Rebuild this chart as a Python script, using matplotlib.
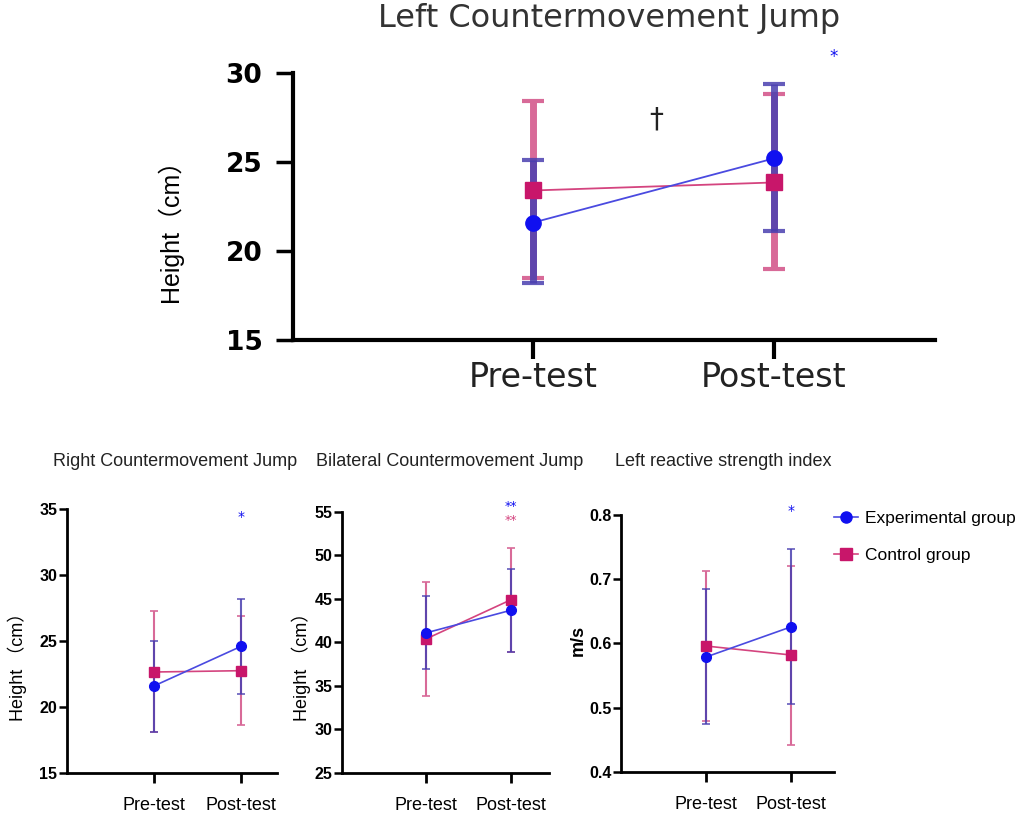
import matplotlib
matplotlib.use("Agg")
import matplotlib.pyplot as plt
from matplotlib.lines import Line2D

# ---------------- data ----------------
phases = ["Pre-test", "Post-test"]

# Left CMJ (top panel)
left_exp_mean = [21.6, 25.2]
left_exp_lo = [18.2, 21.1]
left_exp_hi = [25.1, 29.4]
left_ctl_mean = [23.4, 23.85]
left_ctl_lo = [18.5, 19.0]
left_ctl_hi = [28.4, 28.8]

# Right CMJ
right_exp_mean = [21.6, 24.6]
right_exp_lo = [18.1, 21.0]
right_exp_hi = [25.0, 28.2]
right_ctl_mean = [22.65, 22.75]
right_ctl_lo = [18.1, 18.6]
right_ctl_hi = [27.3, 26.9]

# Bilateral CMJ
bil_exp_mean = [41.1, 43.7]
bil_exp_lo = [37.0, 38.9]
bil_exp_hi = [45.3, 48.4]
bil_ctl_mean = [40.4, 44.9]
bil_ctl_lo = [33.9, 38.9]
bil_ctl_hi = [47.0, 50.9]

# Left RSI
rsi_exp_mean = [0.579, 0.626]
rsi_exp_lo = [0.475, 0.506]
rsi_exp_hi = [0.685, 0.747]
rsi_ctl_mean = [0.596, 0.582]
rsi_ctl_lo = [0.480, 0.442]
rsi_ctl_hi = [0.713, 0.721]

group_names = ["Experimental group", "Control group"]

# ---------------- style ----------------
BLUE = "#1010f0"
BLUE_LINE = "#4a4ae0"
BLUE_ERR = "#4a3fb0"
PINK = "#c8166a"
PINK_LINE = "#d4447f"
PINK_ERR = "#d86a98"

NARROW = ["Liberation Sans", "DejaVu Sans"]
NARROW_CJK = ["Liberation Sans", "Noto Sans CJK SC"]

fig = plt.figure(figsize=(10.19, 8.23), dpi=100)
fig.patch.set_facecolor("white")


def draw(ax, exp_m, exp_lo, exp_hi, ctl_m, ctl_lo, ctl_hi, ms, cap, lw_err, lw_line):
    x = list(range(len(phases)))
    ce = [[m - l for m, l in zip(ctl_m, ctl_lo)], [h - m for m, h in zip(ctl_m, ctl_hi)]]
    ee = [[m - l for m, l in zip(exp_m, exp_lo)], [h - m for m, h in zip(exp_m, exp_hi)]]
    ax.errorbar(x, ctl_m, yerr=ce, fmt="none", ecolor=PINK_ERR, elinewidth=lw_err,
                capsize=cap, capthick=max(1.2, lw_err * 0.6), clip_on=False, zorder=2)
    ax.errorbar(x, exp_m, yerr=ee, fmt="none", ecolor=BLUE_ERR, elinewidth=lw_err,
                capsize=cap, capthick=max(1.2, lw_err * 0.6), clip_on=False, alpha=0.85, zorder=3)
    ax.plot(x, ctl_m, color=PINK_LINE, lw=lw_line, marker="s", ms=ms, mfc=PINK, mec=PINK,
            zorder=4, clip_on=False)
    ax.plot(x, exp_m, color=BLUE_LINE, lw=lw_line, marker="o", ms=ms, mfc=BLUE, mec=BLUE,
            zorder=5, clip_on=False)


# ---------------- top panel ----------------
ax0 = fig.add_axes([0.2875, 0.5869, 0.630, 0.3244])
draw(ax0, left_exp_mean, left_exp_lo, left_exp_hi, left_ctl_mean, left_ctl_lo, left_ctl_hi,
     ms=11, cap=8, lw_err=5, lw_line=1.3)
ax0.set_xlim(-1.0, 1.67)
ax0.set_ylim(15, 30)
ax0.set_yticks([15, 20, 25, 30])
ax0.set_xticks([0, 1])
ax0.set_xticklabels(phases, fontsize=24, family="DejaVu Sans", color="#222222")
for lab in ax0.get_yticklabels():
    lab.set_fontsize(19)
    lab.set_fontweight("heavy")
    lab.set_family("DejaVu Sans")
ax0.tick_params(axis="y", length=12, width=2.5, pad=10)
ax0.tick_params(axis="x", length=14, width=3, pad=1)
for s in ["top", "right"]:
    ax0.spines[s].set_visible(False)
for s in ["left", "bottom"]:
    ax0.spines[s].set_linewidth(3)
ax0.text(0.51, 27.4, "†", ha="center", va="center", fontsize=20, color="#222222")
ax0.text(1.25, 30.9, "*", ha="center", va="center", fontsize=12, color=BLUE, clip_on=False)
fig.text(0.598, 0.977, "Left Countermovement Jump", ha="center", va="center",
         fontsize=23, color="#333333", family="DejaVu Sans")
fig.text(0.167, 0.727, "Height（cm）", rotation=90, ha="center", va="center",
         fontsize=18, family=NARROW_CJK)


# ---------------- bottom panels ----------------
def style_small(ax, ylim, yticks, fmt):
    ax.set_ylim(*ylim)
    ax.set_yticks(yticks)
    ax.set_yticklabels([fmt.format(t) for t in yticks], fontsize=11.5, fontweight="bold",
                       family=NARROW)
    ax.set_xticks([0, 1])
    ax.set_xticklabels(phases, fontsize=13, family=NARROW)
    ax.tick_params(axis="y", length=6, width=1.8, pad=1)
    ax.tick_params(axis="x", length=7, width=2, pad=10)
    for s in ["top", "right"]:
        ax.spines[s].set_visible(False)
    for s in ["left", "bottom"]:
        ax.spines[s].set_linewidth(2)


ax1 = fig.add_axes([0.0658, 0.0608, 0.2060, 0.3207])
draw(ax1, right_exp_mean, right_exp_lo, right_exp_hi, right_ctl_mean, right_ctl_lo, right_ctl_hi,
     ms=7, cap=3, lw_err=1.5, lw_line=1.2)
ax1.set_xlim(-1.0, 1.41)
style_small(ax1, (15, 35), [15, 20, 25, 30, 35], "{:d}")
ax1.text(1.0, 34.4, "*", ha="center", va="center", fontsize=10, color=BLUE, clip_on=False)
fig.text(0.172, 0.439, "Right Countermovement Jump", ha="center", va="center",
         fontsize=13, color="#222222", family=NARROW)
fig.text(0.017, 0.195, "Height （cm）", rotation=90, ha="center", va="center",
         fontsize=13, family=NARROW_CJK)

ax2 = fig.add_axes([0.3356, 0.0608, 0.2031, 0.3171])
draw(ax2, bil_exp_mean, bil_exp_lo, bil_exp_hi, bil_ctl_mean, bil_ctl_lo, bil_ctl_hi,
     ms=7, cap=3, lw_err=1.5, lw_line=1.2)
ax2.set_xlim(-0.99, 1.45)
style_small(ax2, (25, 55), [25, 30, 35, 40, 45, 50, 55], "{:d}")
ax2.text(1.0, 55.6, "**", ha="center", va="center", fontsize=9, color=BLUE, clip_on=False)
ax2.text(1.0, 54.0, "**", ha="center", va="center", fontsize=9, color=PINK_LINE, clip_on=False)
fig.text(0.441, 0.439, "Bilateral Countermovement Jump", ha="center", va="center",
         fontsize=13, color="#222222", family=NARROW)
fig.text(0.296, 0.195, "Height （cm）", rotation=90, ha="center", va="center",
         fontsize=13, family=NARROW_CJK)

ax3 = fig.add_axes([0.6094, 0.0620, 0.2090, 0.3123])
draw(ax3, rsi_exp_mean, rsi_exp_lo, rsi_exp_hi, rsi_ctl_mean, rsi_ctl_lo, rsi_ctl_hi,
     ms=7, cap=3, lw_err=1.5, lw_line=1.2)
ax3.set_xlim(-1.0, 1.5)
style_small(ax3, (0.4, 0.8), [0.4, 0.5, 0.6, 0.7, 0.8], "{:.1f}")
ax3.text(1.0, 0.806, "*", ha="center", va="center", fontsize=10, color=BLUE, clip_on=False)
fig.text(0.710, 0.439, "Left reactive strength index", ha="center", va="center",
         fontsize=13, color="#222222", family=NARROW)
fig.text(0.567, 0.222, "m/s", rotation=90, ha="center", va="center",
         fontsize=13, fontweight="bold", family=NARROW)

handles = [
    Line2D([], [], color=BLUE_LINE, lw=1.2, marker="o", ms=8, mfc=BLUE, mec=BLUE),
    Line2D([], [], color=PINK_LINE, lw=1.2, marker="s", ms=8, mfc=PINK, mec=PINK),
]
fig.legend(handles, group_names, loc="upper left", bbox_to_anchor=(0.808, 0.392),
           frameon=False, prop={"family": NARROW, "size": 12.5}, handlelength=1.4,
           handletextpad=0.4, labelspacing=1.25, borderaxespad=0.2)

fig.savefig("out.png", dpi=100)
